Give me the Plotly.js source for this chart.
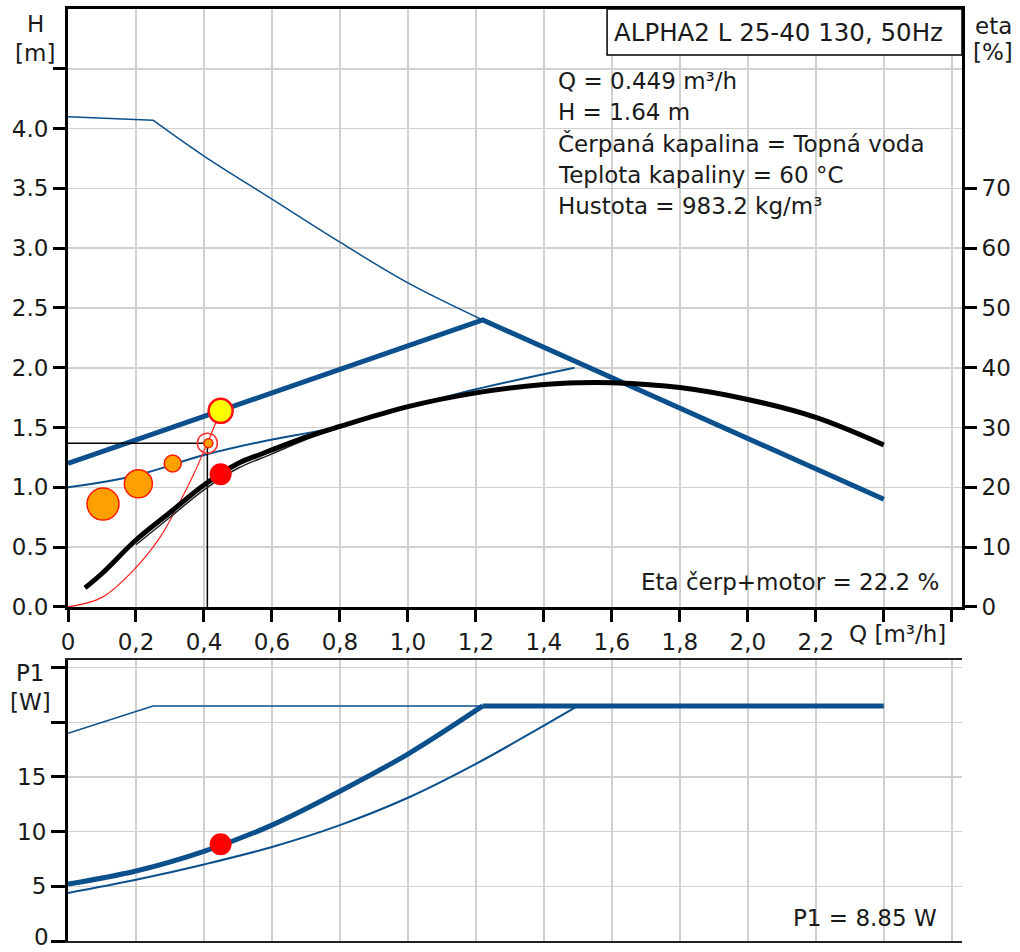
<!DOCTYPE html>
<html>
<head>
<meta charset="utf-8">
<script src="https://cdn.plot.ly/plotly-3.0.1.min.js"></script>
<style>html,body{margin:0;padding:0;background:#fff;}#chart{width:1020px;height:952px;}</style>
</head>
<body>
<div id="chart"></div>
<script>
// ---------- DATA ----------
// Q axis ticks
const qTicks = [0, 0.2, 0.4, 0.6, 0.8, 1.0, 1.2, 1.4, 1.6, 1.8, 2.0, 2.2, 2.4, 2.6];
const qTickLabels = ['0', '0,2', '0,4', '0,6', '0,8', '1,0', '1,2', '1,4', '1,6', '1,8', '2,0', '2,2', '', ''];
const hTicks = [0, 0.5, 1.0, 1.5, 2.0, 2.5, 3.0, 3.5, 4.0, 4.5];
const hTickLabels = ['0.0', '0.5', '1.0', '1.5', '2.0', '2.5', '3.0', '3.5', '4.0', ''];
const etaTicks = [0, 10, 20, 30, 40, 50, 60, 70];
const p1Ticks = [0, 5, 10, 15, 20, 25];
// the "0" of the P1 axis is drawn as a separate label so it stays inside the picture
const p1TickLabels = ['', '5', '10', '15', '', ''];
const p1ZeroLabel = '0';

// H curves [m]
const maxFlatQ = [0, 0.25];
const maxFlatH = [4.1, 4.07];
const maxCurveQ = [0.25, 0.4, 0.6, 0.8, 1.0, 1.22];
const maxCurveH = [4.07, 3.77, 3.41, 3.05, 2.71, 2.40];
const ppCurveQ = [0, 1.22, 2.4];
const ppCurveH = [1.2, 2.40, 0.90];
const lowCurveQ = [0, 0.2, 0.4, 0.565, 0.8, 1.0, 1.2, 1.49];
const lowCurveH = [1.0, 1.10, 1.27, 1.38, 1.51, 1.67, 1.82, 2.0];
const systemQ = [0, 0.1, 0.2, 0.27, 0.32, 0.368, 0.41, 0.449];
const systemH = [0, 0.08, 0.33, 0.58, 0.83, 1.10, 1.37, 1.64];

// Eta curves [%]
const etaQ = [0.05, 0.1, 0.2, 0.3, 0.4, 0.5, 0.565, 0.7, 0.8, 1.0, 1.2, 1.4, 1.5, 1.6, 1.8, 2.0, 2.2, 2.4];
const etaVal = [3.2, 5.6, 11.2, 15.8, 20.4, 24.0, 25.5, 28.4, 30.2, 33.5, 35.8, 37.2, 37.5, 37.5, 36.7, 34.7, 31.7, 27.1];
const etaThinQ = [0.2, 0.3, 0.4, 0.5, 0.6, 0.7, 0.8];
const etaThinVal = [10.4, 15.0, 19.6, 23.2, 25.6, 28.0, 30.0];

// Operating point / markers
const opQ = 0.41;
const opH = 1.37;
const orangeQ = [0.103, 0.207, 0.308, 0.413];
const orangeH = [0.86, 1.03, 1.20, 1.37];
const dutyQ = 0.449;
const dutyH = 1.64;
const dutyEta = 22.2;
const dutyP1 = 8.85;

// P1 curves [W]
const p1TopQ = [0, 0.25, 1.22];
const p1TopVal = [19.0, 21.5, 21.5];
const p1ThickQ = [0, 0.2, 0.4, 0.6, 0.8, 1.0, 1.22];
const p1ThickVal = [5.2, 6.4, 8.2, 10.6, 13.7, 17.1, 21.5];
const p1FlatQ = [1.22, 2.4];
const p1FlatVal = [21.5, 21.5];
const p1LowQ = [0, 0.2, 0.4, 0.6, 0.8, 1.0, 1.2, 1.4, 1.5];
const p1LowVal = [4.4, 5.6, 7.0, 8.6, 10.6, 13.1, 16.2, 19.7, 21.5];

// Text
const titleText = 'ALPHA2 L 25-40 130, 50Hz';
const infoLines = ['Q = 0.449 m³/h', 'H = 1.64 m', 'Čerpaná kapalina = Topná voda', 'Teplota kapaliny = 60 °C', 'Hustota = 983.2 kg/m³'];
const etaText = 'Eta čerp+motor = 22.2 %';
const p1Text = 'P1 = 8.85 W';

// ---------- STYLE ----------
const FONT = 'DejaVu Sans, Liberation Sans, Arial, sans-serif';
const TXT = '#1a1a1a';
const BLUE = '#0b4f8c';
const GRID = '#d0d0d0';
const orangeMarkerSizes = [32, 28, 17, 9];

const traces = [
  {x: maxFlatQ, y: maxFlatH, xaxis: 'x', yaxis: 'y', mode: 'lines', line: {color: BLUE, width: 1.5}},
  {x: maxCurveQ, y: maxCurveH, xaxis: 'x', yaxis: 'y', mode: 'lines', line: {color: BLUE, width: 1.5, shape: 'spline'}},
  {x: lowCurveQ, y: lowCurveH, xaxis: 'x', yaxis: 'y', mode: 'lines', line: {color: BLUE, width: 2, shape: 'spline'}},
  {x: ppCurveQ, y: ppCurveH, xaxis: 'x', yaxis: 'y', mode: 'lines', line: {color: BLUE, width: 5}},
  {x: [0, opQ, opQ], y: [opH, opH, 0], xaxis: 'x', yaxis: 'y', mode: 'lines', line: {color: '#000', width: 1.5}},
  {x: systemQ, y: systemH, xaxis: 'x', yaxis: 'y', mode: 'lines', line: {color: '#ff2020', width: 1.2, shape: 'spline'}},
  {x: orangeQ, y: orangeH, xaxis: 'x', yaxis: 'y', mode: 'markers',
   marker: {color: '#ffa000', opacity: 1, size: orangeMarkerSizes, line: {color: '#ff1a00', width: 1.5}}},
  {x: [opQ], y: [opH], xaxis: 'x', yaxis: 'y', mode: 'markers',
   marker: {symbol: 'circle-open', color: '#ff3030', opacity: 1, size: 20, line: {color: '#ff3030', width: 1.5}}},
  {x: [dutyQ], y: [dutyH], xaxis: 'x', yaxis: 'y', mode: 'markers',
   marker: {color: '#ffff00', opacity: 1, size: 24, line: {color: '#ff1010', width: 2.5}}},
  {x: etaThinQ, y: etaThinVal, xaxis: 'x', yaxis: 'y2', mode: 'lines', line: {color: '#222', width: 1.5, shape: 'spline'}},
  {x: etaQ, y: etaVal, xaxis: 'x', yaxis: 'y2', mode: 'lines', line: {color: '#000', width: 5, shape: 'spline'}},
  {x: [dutyQ], y: [dutyEta], xaxis: 'x', yaxis: 'y2', mode: 'markers', marker: {color: '#ff0000', opacity: 1, size: 22}},
  {x: p1TopQ, y: p1TopVal, xaxis: 'x2', yaxis: 'y3', mode: 'lines', line: {color: BLUE, width: 1.5}},
  {x: p1LowQ, y: p1LowVal, xaxis: 'x2', yaxis: 'y3', mode: 'lines', line: {color: BLUE, width: 2, shape: 'spline'}},
  {x: p1ThickQ, y: p1ThickVal, xaxis: 'x2', yaxis: 'y3', mode: 'lines', line: {color: BLUE, width: 5, shape: 'spline'}},
  {x: p1FlatQ, y: p1FlatVal, xaxis: 'x2', yaxis: 'y3', mode: 'lines', line: {color: BLUE, width: 5}},
  {x: [dutyQ], y: [dutyP1], xaxis: 'x2', yaxis: 'y3', mode: 'markers', marker: {color: '#ff0000', opacity: 1, size: 22}}
];

const tickFont = {family: FONT, size: 23, color: TXT};
const topBottom = 0.3584, botTop = 0.3015;

const layout = {
  width: 1020, height: 952,
  margin: {l: 68, r: 58, t: 9, b: 11},
  paper_bgcolor: '#fff', plot_bgcolor: '#fff',
  showlegend: false,
  font: {family: FONT, color: TXT},
  xaxis: {
    domain: [0, 1], anchor: 'y', range: [0, 2.63],
    tickmode: 'array', tickvals: qTicks, ticktext: qTickLabels,
    showgrid: true, gridcolor: GRID, gridwidth: 1.5, zeroline: false,
    showline: true, linecolor: '#000', linewidth: 3, mirror: true,
    ticks: 'outside', ticklen: 12, tickwidth: 3, tickcolor: '#000',
    tickfont: tickFont, automargin: false
  },
  yaxis: {
    domain: [topBottom, 1], anchor: 'x', range: [0, 5.0],
    tickmode: 'array', tickvals: hTicks, ticktext: hTickLabels,
    showgrid: true, gridcolor: GRID, gridwidth: 1.5, zeroline: false,
    showline: true, linecolor: '#000', linewidth: 3,
    ticks: 'outside', ticklen: 12, tickwidth: 3, tickcolor: '#000',
    tickfont: tickFont, automargin: false
  },
  yaxis2: {
    overlaying: 'y', side: 'right', anchor: 'x', range: [0, 100],
    tickmode: 'array', tickvals: etaTicks,
    showgrid: false, zeroline: false,
    showline: true, linecolor: '#000', linewidth: 3,
    ticks: 'outside', ticklen: 12, tickwidth: 3, tickcolor: '#000',
    tickfont: tickFont, automargin: false
  },
  xaxis2: {
    domain: [0, 1], anchor: 'y3', range: [0, 2.63],
    tickmode: 'array', tickvals: qTicks, showticklabels: false, ticks: '',
    showgrid: true, gridcolor: GRID, gridwidth: 1.5, zeroline: false,
    showline: true, linecolor: '#222', linewidth: 2, mirror: true, automargin: false
  },
  yaxis3: {
    domain: [0, botTop], anchor: 'x2', range: [0, 25.7],
    tickmode: 'array', tickvals: p1Ticks, ticktext: p1TickLabels,
    showgrid: true, gridcolor: GRID, gridwidth: 1.5, zeroline: false,
    showline: true, linecolor: '#000', linewidth: 3,
    ticks: 'outside', ticklen: 14, tickwidth: 3, tickcolor: '#000',
    tickfont: tickFont, automargin: false
  },
  shapes: [
    {type: 'rect', xref: 'paper', yref: 'paper', x0: 0.603, x1: 1.0, y0: 0.9506, y1: 1.0,
     line: {color: '#000', width: 1.5}, fillcolor: '#fff', layer: 'above'},
    {type: 'rect', xref: 'paper', yref: 'paper', x0: 0.537, x1: 0.9955, y0: 0.7650, y1: 0.9453,
     line: {width: 0}, fillcolor: '#fff', layer: 'between'},
    {type: 'rect', xref: 'paper', yref: 'paper', x0: 0.6264, x1: 0.9966, y0: 0.3605, y1: 0.4002,
     line: {width: 0}, fillcolor: '#fff', layer: 'between'},
    {type: 'rect', xref: 'paper', yref: 'paper', x0: 0.802, x1: 0.9966, y0: 0.0032, y1: 0.0483,
     line: {width: 0}, fillcolor: '#fff', layer: 'between'}
  ],
  annotations: []
};

function addText(text, x, y, size, xanchor, yanchor) {
  layout.annotations.push({text: text, xref: 'paper', yref: 'paper', x: x, y: y,
    xanchor: xanchor || 'center', yanchor: yanchor || 'middle', showarrow: false,
    borderpad: 0, font: {family: FONT, size: size, color: TXT}});
}
addText(titleText, 0.7953, 0.9753, 24.5);
const infoY = [0.9227, 0.8895, 0.8552, 0.8219, 0.7886];
infoLines.forEach((t, i) => addText(t, 0.547, infoY[i], 23, 'left'));
addText(etaText, 0.6398, 0.3852, 23, 'left');
addText(p1Text, 0.8098, 0.0247, 23, 'left');
addText('Q [m³/h]', 0.9273, 0.3294, 23);
addText('H', -0.0369, 0.9839, 23);
addText('[m]', -0.0369, 0.9528, 23);
addText('eta', 1.0347, 0.9818, 23);
addText('[%]', 1.0347, 0.9539, 23);
addText('P1', -0.0414, 0.2876, 23);
addText('[W]', -0.0414, 0.2564, 23);
addText(p1ZeroLabel, -0.0196, -0.0107, 23, 'right', 'bottom');

Plotly.newPlot('chart', traces, layout, {staticPlot: true, displayModeBar: false});
</script>
</body>
</html>
